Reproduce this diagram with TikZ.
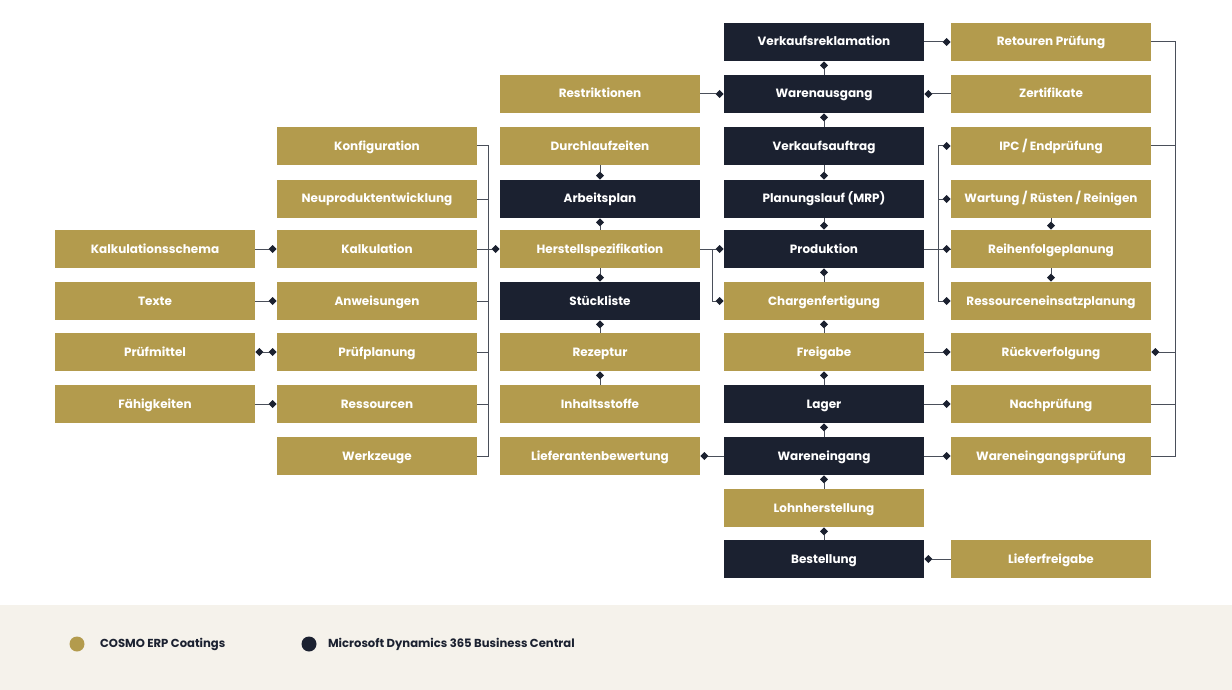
\documentclass[tikz,border=0pt]{standalone}
\usepackage{fontspec}
\setmainfont{Poppins}
\usetikzlibrary{arrows.meta}
\definecolor{gold}{HTML}{B39B4D}
\definecolor{dark}{HTML}{1B2130}
\definecolor{foot}{HTML}{F5F2EB}
\definecolor{ln}{HTML}{4A4F5A}
\begin{document}
\begin{tikzpicture}[x=0.5pt,y=-0.5pt,
 box/.style={draw=none,minimum width=100pt,minimum height=19pt,inner sep=0pt,text=white,text height=4.6pt,text depth=0.6pt,font=\fontsize{6pt}{7pt}\selectfont\bfseries},
 g/.style={box,fill=gold}, d/.style={box,fill=dark},
 c/.style={draw=ln,line width=0.5pt},
 dm/.style={c,{Diamond[length=4pt,width=4pt,fill=dark,color=dark]}-},
 md/.style={c,-{Diamond[length=4pt,width=4pt,fill=dark,color=dark]}},
 dd/.style={c,{Diamond[length=4pt,width=4pt,fill=dark,color=dark]}-{Diamond[length=4pt,width=4pt,fill=dark,color=dark]}}]
\useasboundingbox (0,0) rectangle (1232,690);
\fill[white] (0,0) rectangle (1232,605);
\fill[foot] (0,605) rectangle (1232,690);
% column A
\node[g] (ks) at (155,249) {Kalkulationsschema};
\node[g] (tx) at (155,301) {Texte};
\node[g] (pm) at (155,352) {Prüfmittel};
\node[g] (fk) at (155,404) {Fähigkeiten};
% column B
\node[g] (kf) at (377,146) {Konfiguration};
\node[g] (np) at (377,199) {Neuproduktentwicklung};
\node[g] (kl) at (377,249) {Kalkulation};
\node[g] (aw) at (377,301) {Anweisungen};
\node[g] (pp) at (377,352) {Prüfplanung};
\node[g] (rs) at (377,404) {Ressourcen};
\node[g] (wz) at (377,456) {Werkzeuge};
% column C
\node[g] (re) at (600,94) {Restriktionen};
\node[g] (dl) at (600,146) {Durchlaufzeiten};
\node[d] (ap) at (600,199) {Arbeitsplan};
\node[g] (hs) at (600,249) {Herstellspezifikation};
\node[d] (sl) at (600,301) {Stückliste};
\node[g] (rz) at (600,352) {Rezeptur};
\node[g] (is) at (600,404) {Inhaltsstoffe};
\node[g] (lb) at (600,456) {Lieferantenbewertung};
% column D
\node[d] (vr) at (824,42) {Verkaufsreklamation};
\node[d] (wa) at (824,94) {Warenausgang};
\node[d] (va) at (824,146) {Verkaufsauftrag};
\node[d] (pl) at (824,199) {Planungslauf (MRP)};
\node[d] (pr) at (824,249) {Produktion};
\node[g] (cf) at (824,301) {Chargenfertigung};
\node[g] (fg) at (824,352) {Freigabe};
\node[d] (lg) at (824,404) {Lager};
\node[d] (we) at (824,456) {Wareneingang};
\node[g] (lh) at (824,508) {Lohnherstellung};
\node[d] (bs) at (824,559) {Bestellung};
% column E
\node[g] (rp) at (1051,42) {Retouren Prüfung};
\node[g] (zt) at (1051,94) {Zertifikate};
\node[g] (ipc) at (1051,146) {IPC / Endprüfung};
\node[g] (wr) at (1051,199) {Wartung / Rüsten / Reinigen};
\node[g] (rf) at (1051,249) {Reihenfolgeplanung};
\node[g] (rep) at (1051,301) {Ressourceneinsatzplanung};
\node[g] (rv) at (1051,352) {Rückverfolgung};
\node[g] (nap) at (1051,404) {Nachprüfung};
\node[g] (wep) at (1051,456) {Wareneingangsprüfung};
\node[g] (lf) at (1051,559) {Lieferfreigabe};
% A-B
\draw[md] (ks.east) -- (kl.west);
\draw[md] (tx.east) -- (aw.west);
\draw[dd] (pm.east) -- (pp.west);
\draw[md] (fk.east) -- (rs.west);
% left bracket
\coordinate (lbx) at (488,0);
\draw[c] (kf.east) -| (lbx |- wz.east) -- (wz.east);
\foreach \n in {np,kl,aw,pp,rs} \draw[c] (\n.east) -- (lbx |- \n.east);
\draw[md] (lbx |- kl.east) -- (hs.west);
% column C
\draw[md] (dl.south) -- (ap.north);
\draw[dm] (ap.south) -- (hs.north);
\draw[md] (hs.south) -- (sl.north);
\draw[dm] (sl.south) -- (rz.north);
\draw[dm] (rz.south) -- (is.north);
% column D vertical
\draw[dm] (vr.south) -- (wa.north);
\draw[dm] (wa.south) -- (va.north);
\draw[md] (va.south) -- (pl.north);
\draw[md] (pl.south) -- (pr.north);
\draw[dm] (pr.south) -- (cf.north);
\draw[dm] (cf.south) -- (fg.north);
\draw[dm] (fg.south) -- (lg.north);
\draw[dm] (lg.south) -- (we.north);
\draw[dm] (we.south) -- (lh.north);
\draw[dm] (lh.south) -- (bs.north);
% D horizontal
\draw[dm] (wa.west) -- (re.east);
\draw[dm] (wa.east) -- (zt.west);
\draw[md] (vr.east) -- (rp.west);
\draw[dm] (pr.west) -- (hs.east);
\coordinate (mx) at (712,0);
\draw[md] (mx |- hs.east) |- (cf.west);
\coordinate (px) at (938,0);
\draw[c] (pr.east) -- (rf.west);
\draw[c] (px |- ipc.west) -- (px |- rep.west);
\foreach \n in {ipc,wr,rf,rep} \draw[md] (px |- \n.west) -- (\n.west);
\draw[md] (wr.south) -- (rf.north);
\draw[md] (rf.south) -- (rep.north);
\draw[md] (fg.east) -- (rv.west);
\draw[md] (lg.east) -- (nap.west);
\draw[md] (we.east) -- (wep.west);
\draw[md] (we.west) -- (lb.east);
\draw[dm] (bs.east) -- (lf.west);
% right bracket
\coordinate (rx) at (1175,0);
\draw[c] (rp.east) -| (rx |- wep.east) -- (wep.east);
\foreach \n in {ipc,nap} \draw[c] (\n.east) -- (rx |- \n.east);
\draw[dm] (rv.east) -- (rx |- rv.east);
% legend
\fill[gold] (77,644) circle (7.5);
\node[anchor=west,font=\fontsize{5.8pt}{7pt}\selectfont\bfseries,text=dark] (l1) at (93,644) {COSMO ERP Coatings};
\fill[dark] (309,644) circle (7.5);
\node[anchor=west,font=\fontsize{5.8pt}{7pt}\selectfont\bfseries,text=dark] (l2) at (321,644) {Microsoft Dynamics 365 Business Central};
\end{tikzpicture}
\end{document}
